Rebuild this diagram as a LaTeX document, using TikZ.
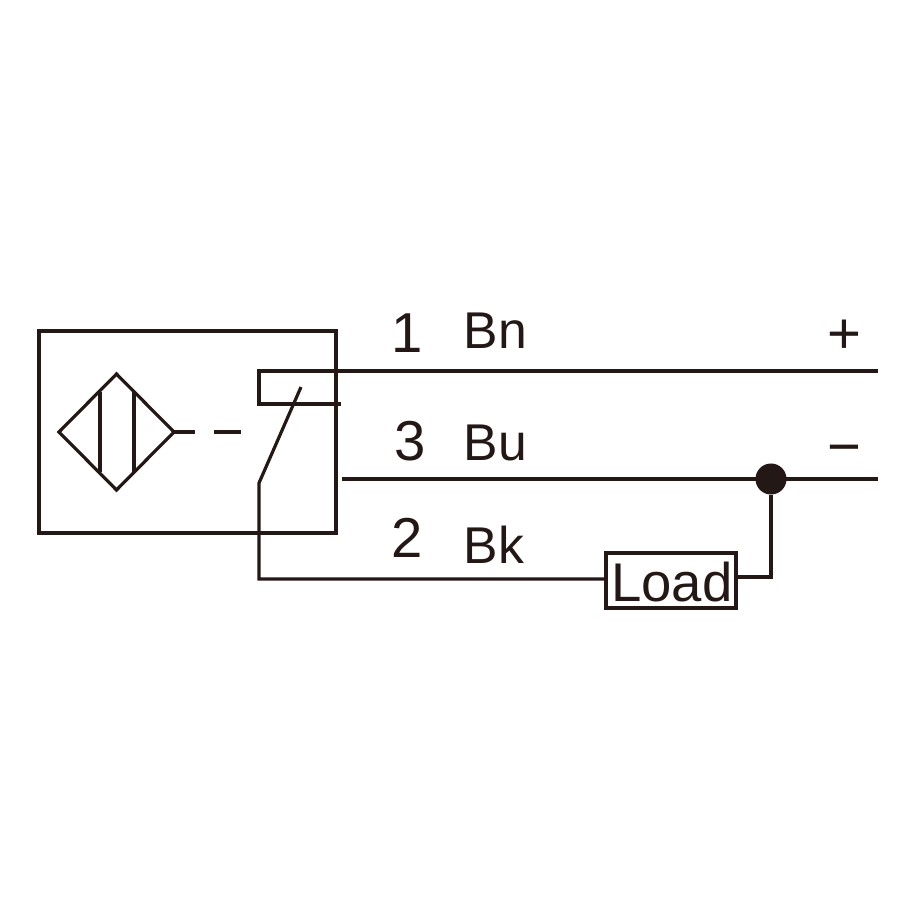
\documentclass[tikz,border=0pt]{standalone}
\usepackage{fontspec}
\setmainfont{Liberation Sans}
\definecolor{ink}{RGB}{35,24,21}
\tikzset{
  wire/.style={draw=ink, line width=0.032cm},
  wirejoin/.style={draw=ink, line width=0.042cm},
  lbl/.style={text=ink, inner sep=0pt, anchor=base west, font=\fontsize{14.7}{16}\selectfont},
  pin/.style={text=ink, inner sep=0pt, anchor=base west, font=\fontsize{16}{18}\selectfont},
  sign/.style={text=ink, inner sep=0pt, anchor=base west, font=\fontsize{16.5}{18}\selectfont},
}
\begin{document}
\begin{tikzpicture}[x=0.01cm, y=-0.01cm]
  \useasboundingbox (0,0) rectangle (900,900);

  % Sensor housing and sensing face
  \node[wire, rectangle, minimum width=2.97cm, minimum height=2.02cm, inner sep=0pt] (housing) at (187.5,432) {};
  \coordinate (faceL) at (59,432);
  \coordinate (faceT) at (116.5,374);
  \coordinate (faceR) at (174,432);
  \coordinate (faceB) at (116.5,490);
  \draw[wire, line join=miter] (faceL) -- (faceT) -- (faceR) -- (faceB) -- cycle;
  \coordinate (barAt) at (100,392);
  \coordinate (barAb) at (100,472);
  \coordinate (barBt) at (134,392);
  \coordinate (barBb) at (134,472);
  \draw[wire] (barAt) -- (barAb);
  \draw[wire] (barBt) -- (barBb);

  % Coupling to the switch
  \coordinate (leadEnd) at (195,432);
  \coordinate (dashA) at (214,432);
  \coordinate (dashB) at (241,432);
  \draw[wire] (faceR) -- (leadEnd);
  \draw[wire] (dashA) -- (dashB);

  % Wires
  \coordinate (bnEnd) at (878,371);
  \coordinate (contactTL) at (259,371);
  \coordinate (contactBL) at (259,404);
  \coordinate (contactBR) at (341,404);
  \draw[wire, line join=miter] (bnEnd) -- (contactTL) -- (contactBL) -- (contactBR);
  \coordinate (bnJoinA) at (435,371);
  \coordinate (bnJoinB) at (474,371);
  \draw[wirejoin] (bnJoinA) -- (bnJoinB);

  \coordinate (buStart) at (342,479);
  \coordinate (buEnd) at (878,479);
  \node[circle, fill=ink, minimum size=0.31cm, inner sep=0pt] (joint) at (771,479) {};
  \draw[wire] (buStart) -- (buEnd);
  \coordinate (buJoinA) at (435,479);
  \coordinate (buJoinB) at (476,479);
  \draw[wirejoin] (buJoinA) -- (buJoinB);

  \node[wire, rectangle, minimum width=1.3cm, minimum height=0.55cm, inner sep=0pt] (load) at (671,580.5) {};
  \node[text=ink, inner sep=0pt, anchor=base, font=\fontsize{15.5}{17}\selectfont] (loadtxt) at (672,601.5) {Load};

  \coordinate (swTip) at (301,387);
  \coordinate (swPivot) at (259,483);
  \coordinate (bkCorner) at (259,579);
  \coordinate (loadCorner) at (771,577);
  \draw[wire, line join=miter] (swTip) -- (swPivot) -- (bkCorner) -- (bkCorner -| load.west);
  \draw[wire, line join=miter] (load.east |- loadCorner) -- (loadCorner) -- (joint);

  % Labels
  \node[pin] (pinA) at (391,352) {1};
  \node[pin] (pinB) at (394,460) {3};
  \node[pin] (pinC) at (391,557) {2};
  \node[lbl] (bn) at (463,348) {Bn};
  \node[lbl] (bu) at (463,460) {Bu};
  \node[lbl] (bk) at (463,563) {Bk};
  \node[sign] (plus) at (827,353) {+};
  \node[sign] (minus) at (827,466) {−};
\end{tikzpicture}
\end{document}
